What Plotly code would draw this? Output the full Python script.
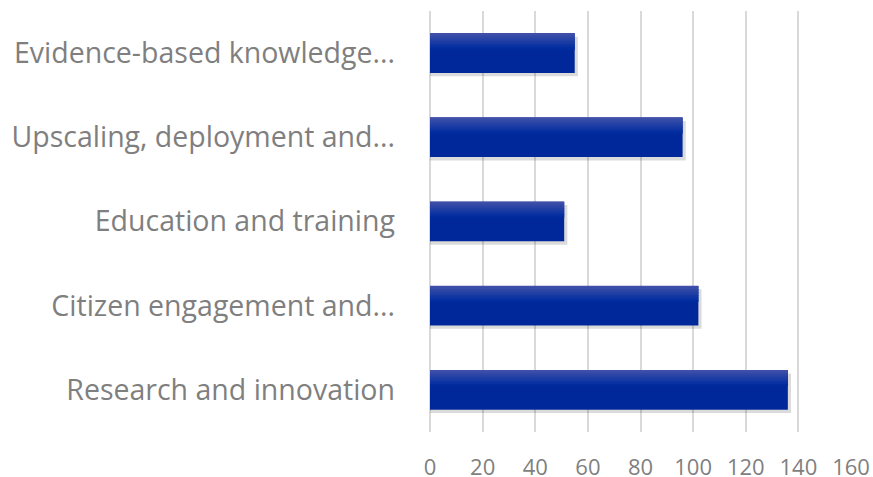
import plotly.graph_objects as go

# categories listed bottom -> top
categories = [
    "Research and innovation",
    "Citizen engagement and...",
    "Education and training",
    "Upscaling, deployment and...",
    "Evidence-based knowledge...",
]
values = [136, 102, 51, 96, 55]
x_ticks = [0, 20, 40, 60, 80, 100, 120, 140, 160]

bar_w = 0.47
fig = go.Figure()

# soft shadow under the bars
fig.add_trace(go.Bar(
    y=categories, x=[v + 1.2 for v in values], orientation="h",
    width=bar_w, offset=-bar_w / 2 - 0.04,
    marker=dict(color="rgba(0,0,0,0.14)", line=dict(width=0)),
    hoverinfo="skip", showlegend=False,
))

# main bar colour
fig.add_trace(go.Bar(
    y=categories, x=values, orientation="h",
    width=bar_w, offset=-bar_w / 2,
    marker=dict(color="#00289a", line=dict(width=0)),
    showlegend=False,
))

# fake vertical gradient: thin strips on the upper part of each bar
top_col = (64, 80, 170)
mid_col = (0, 44, 160)
n = 10
strip = bar_w * 0.4 / n
for i in range(n):
    t = i / (n - 1)
    c = tuple(int(top_col[k] + (mid_col[k] - top_col[k]) * t) for k in range(3))
    fig.add_trace(go.Bar(
        y=categories, x=values, orientation="h",
        width=strip + 0.002, offset=bar_w / 2 - strip * (i + 1),
        marker=dict(color="rgb(%d,%d,%d)" % c, line=dict(width=0)),
        hoverinfo="skip", showlegend=False,
    ))

fig.update_layout(
    width=873, height=477,
    barmode="overlay",
    plot_bgcolor="white", paper_bgcolor="white",
    margin=dict(l=430, r=22, t=11, b=45, autoexpand=False),
    font=dict(family="Open Sans", color="#7f7f7f"),
)
fig.update_xaxes(
    range=[0, 160], tickvals=x_ticks, showgrid=True,
    gridcolor="#d9d9d9", gridwidth=1.5, zeroline=True, zerolinecolor="#d9d9d9",
    zerolinewidth=1.5, tickfont=dict(size=22, color="#7f7f7f"),
    ticklabelstandoff=20, ticklabeloverflow="allow", automargin=False,
    fixedrange=True,
)
fig.update_yaxes(
    categoryorder="array", categoryarray=categories,
    showgrid=False, tickfont=dict(size=28.5, color="#7f7f7f"),
    ticklabelstandoff=34, automargin=False, fixedrange=True,
)

# drop the default body margin so the figure fills the window exactly
fig.write_html("out.html", config={"displayModeBar": False},
               post_script="document.body.style.margin='0';")
